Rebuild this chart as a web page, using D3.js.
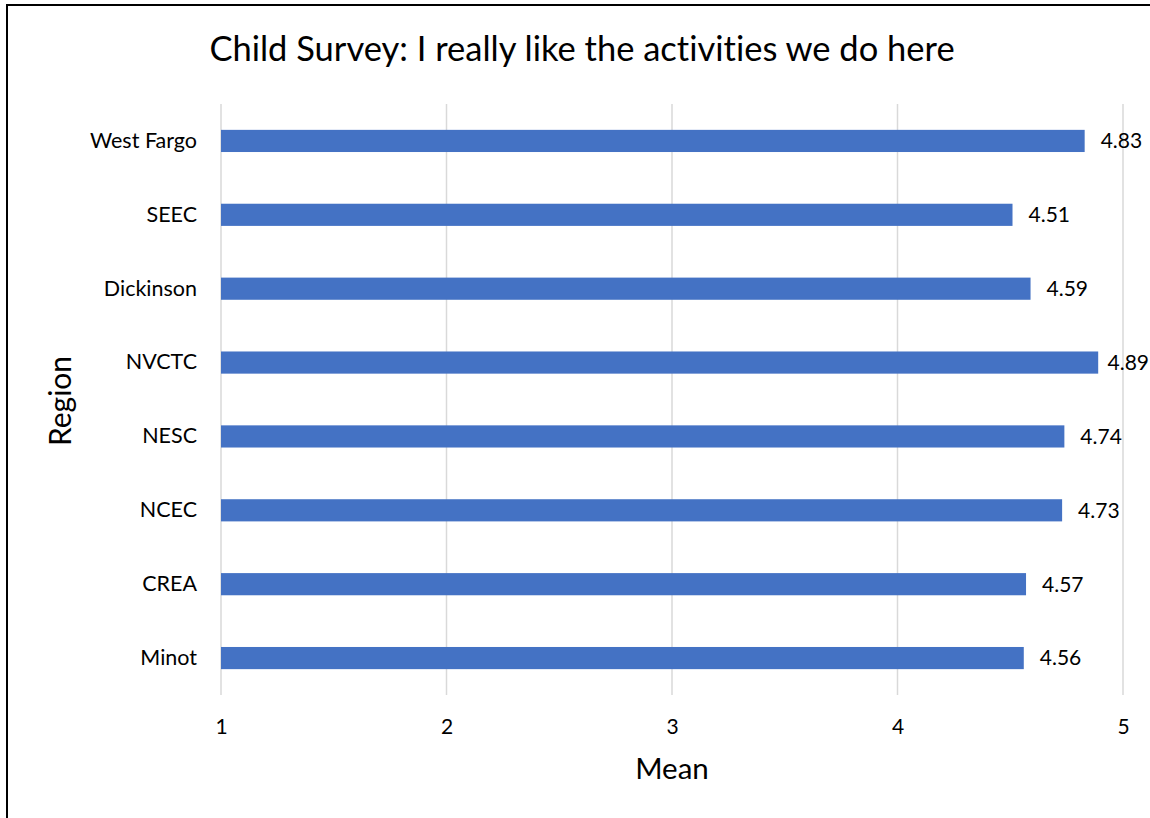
<!DOCTYPE html>
<html><head><meta charset="utf-8">
<script src="https://cdn.jsdelivr.net/npm/d3@7"></script>
<style>body{margin:0;background:#fff}svg{display:block}text{font-variant-ligatures:none}</style>
</head><body>
<svg id="c" width="1150" height="818"></svg>
<script>
const categories = ["West Fargo","SEEC","Dickinson","NVCTC","NESC","NCEC","CREA","Minot"];
const values = [4.83,4.51,4.59,4.89,4.74,4.73,4.57,4.56];
const xTicks = [1,2,3,4,5];
const titleText = "Child Survey: I really like the activities we do here";
const xTitle = "Mean";
const yTitle = "Region";

const font = "Lato, 'Open Sans', sans-serif";
const svg = d3.select("#c");
svg.append("rect").attr("x",7).attr("y",5).attr("width",1200).attr("height",900)
  .attr("fill","#fff").attr("stroke","#000").attr("stroke-width",2);

const L=221, R=1123, T=104, B=695;
const x = d3.scaleLinear().domain([1,5]).range([L,R]);
const y = d3.scaleBand().domain(categories).range([T,B]).paddingInner(0.7).paddingOuter(0.35);

const g = svg.append("g");
g.selectAll("line.grid").data(xTicks).join("line")
  .attr("x1",d=>x(d)).attr("x2",d=>x(d)).attr("y1",T).attr("y2",B)
  .attr("stroke","#d9d9d9").attr("stroke-width",1.5);

g.selectAll("rect.bar").data(values).join("rect")
  .attr("x",x(1)).attr("y",(d,i)=>y(categories[i]))
  .attr("width",d=>x(d)-x(1)).attr("height",y.bandwidth())
  .attr("fill","#4472C4");

g.selectAll("text.val").data(values).join("text")
  .attr("y",(d,i)=>y(categories[i])+y.bandwidth()/2)
  .attr("dy","0.35em").attr("font-family",font).attr("font-size",21).attr("fill","#000")
  .text(d=>d.toFixed(2))
  .attr("x",function(d){ const w=this.getComputedTextLength(); return Math.min(x(d)+16, 1149-w); });

const yAxis = d3.axisLeft(y).tickSize(0).tickPadding(24);
const ya = svg.append("g").attr("transform",`translate(${L},0)`).call(yAxis);
ya.select(".domain").remove();
ya.selectAll("text").attr("font-family",font).attr("font-size",21.5).attr("fill","#000");

const xAxis = d3.axisBottom(x).tickValues(xTicks).tickSize(0).tickPadding(24).tickFormat(d3.format("d"));
const xa = svg.append("g").attr("transform",`translate(0,${B})`).call(xAxis);
xa.select(".domain").remove();
xa.selectAll("text").attr("font-family",font).attr("font-size",21).attr("fill","#000");

svg.append("text").attr("x",582).attr("y",61).attr("text-anchor","middle")
  .attr("font-family",font).attr("font-size",34.5).attr("fill","#000").text(titleText);
svg.append("text").attr("x",672).attr("y",779).attr("text-anchor","middle")
  .attr("font-family",font).attr("font-size",29.5).attr("fill","#000").text(xTitle);
svg.append("text").attr("transform","translate(71,401) rotate(-90)").attr("text-anchor","middle")
  .attr("font-family",font).attr("font-size",30).attr("fill","#000").text(yTitle);
</script>
</body></html>
